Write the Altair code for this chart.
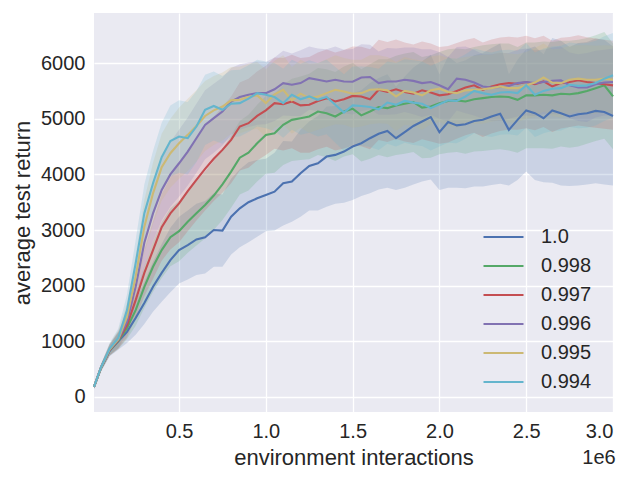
import altair as alt
import pandas as pd

# x positions (environment interactions, in millions)
steps_m = [0.01, 0.05, 0.1, 0.15, 0.2, 0.25, 0.3, 0.35, 0.4, 0.45,
           0.5, 0.55, 0.6, 0.65, 0.7, 0.75, 0.8, 0.85, 0.9, 0.95,
           1.0, 1.05, 1.1, 1.15, 1.2, 1.25, 1.3, 1.35, 1.4, 1.45,
           1.5, 1.55, 1.6, 1.65, 1.7, 1.75, 1.8, 1.85, 1.9, 1.95,
           2.0, 2.05, 2.1, 2.15, 2.2, 2.25, 2.3, 2.35, 2.4, 2.45,
           2.5, 2.55, 2.6, 2.65, 2.7, 2.75, 2.8, 2.85, 2.9, 2.95, 3.0]

labels = ["1.0", "0.998", "0.997", "0.996", "0.995", "0.994"]
colors = ["#4C72B0", "#55A868", "#C44E52", "#8172B2", "#CCB974", "#64B5CD"]

mean_10 = [180, 520, 830, 1000, 1170, 1420, 1690, 1980, 2230, 2460,
           2640, 2730, 2830, 2870, 3000, 2990, 3240, 3390, 3500, 3570,
           3630, 3690, 3840, 3870, 4020, 4150, 4200, 4320, 4350, 4410,
           4500, 4560, 4650, 4730, 4780, 4650, 4760, 4870, 4950, 5030,
           4760, 4940, 4880, 4900, 4960, 4980, 5040, 5090, 4800, 4980,
           5150, 5100, 5010, 5150, 5100, 5040, 5080, 5100, 5140, 5120, 5050]
sd_10 = [30, 60, 100, 150, 200, 300, 380, 450, 520, 580,
         600, 620, 640, 650, 660, 650, 680, 700, 720, 690,
         650, 700, 760, 720, 780, 800, 850, 900, 880, 920,
         960, 950, 990, 1000, 1020, 930, 1000, 1050, 1080, 1120,
         1040, 1180, 1120, 1150, 1180, 1200, 1230, 1260, 1000, 1080,
         1100, 1200, 1150, 1300, 1300, 1250, 1280, 1280, 1300, 1300, 1250]

mean_998 = [180, 520, 840, 1010, 1240, 1560, 1980, 2340, 2640, 2870,
            2980, 3150, 3300, 3450, 3620, 3820, 4050, 4300, 4390, 4560,
            4710, 4740, 4890, 4980, 5010, 5040, 5130, 5100, 5040, 5130,
            5180, 5060, 5130, 5210, 5190, 5240, 5270, 5300, 5200, 5220,
            5280, 5320, 5330, 5310, 5350, 5370, 5390, 5400, 5390, 5340,
            5420, 5420, 5430, 5420, 5450, 5440, 5460, 5500, 5550, 5600, 5400]
sd_998 = [30, 60, 100, 150, 200, 280, 380, 450, 500, 520,
          540, 560, 580, 600, 620, 640, 650, 660, 680, 690,
          700, 710, 720, 740, 750, 770, 780, 790, 800, 810,
          820, 830, 850, 860, 880, 890, 900, 900, 910, 920,
          920, 930, 930, 940, 940, 950, 950, 950, 960, 950,
          950, 950, 960, 960, 950, 960, 960, 950, 950, 960, 950]

mean_997 = [180, 525, 845, 1020, 1290, 1740, 2230, 2640, 3050, 3300,
            3480, 3700, 3900, 4100, 4280, 4440, 4620, 4860, 4920, 5050,
            5150, 5280, 5260, 5310, 5240, 5250, 5320, 5370, 5310, 5350,
            5410, 5400, 5350, 5520, 5480, 5530, 5480, 5450, 5510, 5470,
            5420, 5440, 5500, 5560, 5600, 5520, 5580, 5620, 5640, 5630,
            5660, 5620, 5670, 5580, 5640, 5660, 5690, 5660, 5640, 5620, 5600]
sd_997 = [30, 60, 100, 150, 220, 320, 420, 520, 600, 650,
          700, 720, 730, 750, 760, 770, 780, 790, 800, 800,
          800, 820, 830, 840, 850, 860, 870, 875, 880, 885,
          890, 895, 900, 900, 900, 895, 890, 885, 880, 880,
          870, 865, 860, 855, 850, 850, 845, 840, 835, 830,
          830, 825, 820, 820, 815, 810, 810, 805, 800, 800, 800]

mean_996 = [180, 525, 850, 1030, 1350, 1980, 2770, 3300, 3720, 4000,
            4200, 4410, 4650, 4890, 5010, 5130, 5310, 5390, 5430, 5460,
            5460, 5530, 5640, 5610, 5640, 5730, 5700, 5670, 5700, 5670,
            5665, 5740, 5750, 5640, 5670, 5670, 5700, 5680, 5640, 5660,
            5600, 5530, 5720, 5700, 5650, 5580, 5560, 5570, 5590, 5640,
            5660, 5640, 5660, 5680, 5690, 5600, 5560, 5560, 5620, 5650, 5660]
sd_996 = [30, 60, 100, 150, 200, 300, 420, 500, 550, 580,
          600, 610, 620, 620, 620, 610, 600, 590, 580, 570,
          560, 570, 580, 560, 590, 570, 560, 580, 600, 570,
          590, 600, 580, 570, 600, 590, 580, 600, 610, 590,
          600, 580, 570, 600, 590, 580, 600, 610, 590, 600,
          600, 590, 580, 600, 610, 590, 600, 620, 600, 590, 600]

mean_995 = [180, 525, 855, 1040, 1440, 2160, 3060, 3660, 4130, 4380,
            4560, 4710, 4870, 5050, 5150, 5220, 5330, 5340, 5390, 5420,
            5280, 5440, 5520, 5330, 5450, 5370, 5400, 5460, 5520, 5490,
            5450, 5460, 5520, 5530, 5510, 5400, 5500, 5470, 5420, 5510,
            5540, 5480, 5460, 5510, 5520, 5530, 5550, 5580, 5550, 5550,
            5600, 5650, 5740, 5650, 5640, 5700, 5720, 5700, 5700, 5720, 5700]
sd_995 = [30, 60, 100, 160, 250, 380, 480, 550, 600, 620,
          640, 650, 640, 630, 620, 610, 600, 600, 600, 600,
          610, 600, 620, 600, 610, 620, 600, 610, 620, 600,
          610, 600, 620, 610, 600, 620, 610, 600, 620, 610,
          600, 610, 620, 600, 610, 620, 600, 610, 620, 610,
          600, 620, 610, 600, 620, 610, 600, 620, 610, 600, 610]

mean_994 = [180, 530, 870, 1060, 1560, 2400, 3300, 3840, 4310, 4600,
            4680, 4650, 4860, 5160, 5230, 5160, 5270, 5280, 5360, 5460,
            5430, 5390, 5280, 5430, 5350, 5400, 5340, 5390, 5250, 5110,
            5240, 5230, 5210, 5170, 5290, 5250, 5320, 5290, 5270, 5190,
            5260, 5330, 5320, 5400, 5500, 5460, 5430, 5470, 5480, 5460,
            5600, 5430, 5500, 5540, 5550, 5610, 5590, 5600, 5640, 5720, 5780]
sd_994 = [30, 60, 100, 170, 280, 420, 520, 580, 620, 640,
          650, 650, 640, 630, 620, 610, 600, 600, 600, 600,
          600, 610, 620, 630, 640, 650, 660, 670, 680, 690,
          700, 710, 720, 730, 740, 750, 750, 760, 760, 760,
          760, 760, 760, 760, 760, 760, 760, 760, 760, 760,
          760, 760, 760, 760, 760, 760, 760, 760, 760, 760, 760]

means = [mean_10, mean_998, mean_997, mean_996, mean_995, mean_994]
sds = [sd_10, sd_998, sd_997, sd_996, sd_995, sd_994]

rows = []
for lab, m, s in zip(labels, means, sds):
    for x, mv, sv in zip(steps_m, m, s):
        rows.append({"x": x * 1e6, "mean": mv, "lo": mv - sv, "hi": mv + sv, "gamma": lab})
df = pd.DataFrame(rows)

FONT = "Liberation Sans"
TXT = "#262626"

xscale = alt.Scale(domain=[10000, 3000000], nice=False, zero=False)
yscale = alt.Scale(domain=[-270, 6900], nice=False, zero=False)
cscale = alt.Scale(domain=labels, range=colors)

xaxis = alt.Axis(values=[500000, 1000000, 1500000, 2000000, 2500000, 3000000],
                 labelExpr="format(datum.value / 1000000, '.1f')",
                 title="environment interactions", titleFontSize=22, titleFont=FONT,
                 titleColor=TXT, titleFontWeight="normal", titleBaseline="alphabetic", titleY=52,
                 labelFont=FONT, labelFontSize=20, labelColor=TXT, labelPadding=9,
                 ticks=False, domain=False, grid=True, gridColor="white", gridWidth=1.3)
yaxis = alt.Axis(values=[0, 1000, 2000, 3000, 4000, 5000, 6000], format="d",
                 title="average test return", titleFontSize=22, titleFont=FONT,
                 titleColor=TXT, titleFontWeight="normal", titleBaseline="alphabetic", titleX=-65,
                 labelFont=FONT, labelFontSize=20, labelColor=TXT, labelPadding=9,
                 ticks=False, domain=False, grid=True, gridColor="white", gridWidth=1.3)

base = alt.Chart(df)

bands = base.mark_area(opacity=0.2, interpolate="linear").encode(
    x=alt.X("x:Q", scale=xscale, axis=xaxis),
    y=alt.Y("lo:Q", scale=yscale, axis=yaxis),
    y2="hi:Q",
    color=alt.Color("gamma:N", scale=cscale, legend=None),
    detail="gamma:N",
)

lines = base.mark_line(strokeWidth=2.1).encode(
    x=alt.X("x:Q", scale=xscale),
    y=alt.Y("mean:Q", scale=yscale),
    color=alt.Color("gamma:N", scale=cscale, sort=labels,
                    legend=alt.Legend(title=None, orient="none", legendX=388, legendY=214,
                                      symbolType="stroke", symbolSize=1600, symbolStrokeWidth=2.1,
                                      labelFont=FONT, labelFontSize=20, labelColor=TXT,
                                      labelOffset=16, rowPadding=9, clipHeight=20, padding=0)),
)

offset_txt = alt.Chart(pd.DataFrame({"t": ["1e6"]})).mark_text(
    font=FONT, fontSize=20, color=TXT, align="center", baseline="alphabetic"
).encode(text="t:N", x=alt.value(505), y=alt.value(451))

chart = alt.layer(bands, lines, offset_txt).resolve_scale(color="independent").properties(
    width=519, height=399,
    autosize=alt.AutoSizeParams(type="none"),
    padding={"left": 86, "top": 5, "right": 15, "bottom": 58},
).configure_view(fill="#EAEAF2", stroke=None)

chart.save("out.html", embed_options={"renderer": "svg", "actions": False})
